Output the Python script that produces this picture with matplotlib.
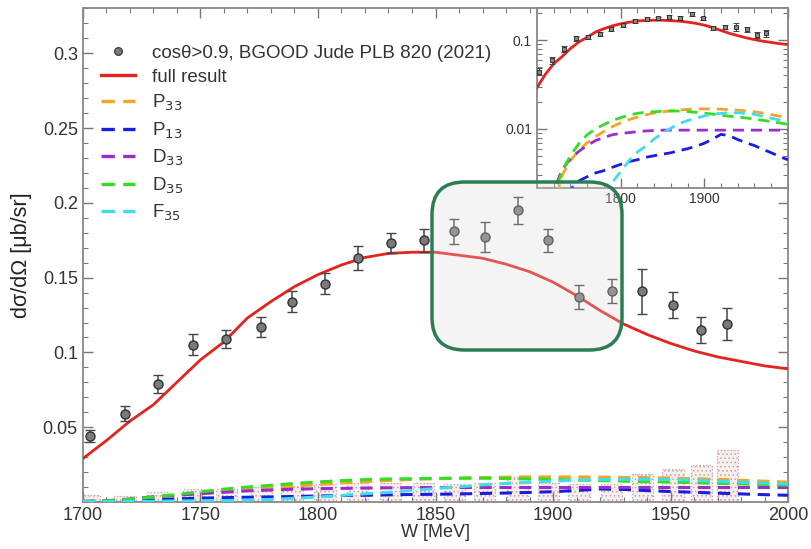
import numpy as np
import matplotlib

matplotlib.use("Agg")
import matplotlib.pyplot as plt
from matplotlib.lines import Line2D
from matplotlib.patches import FancyBboxPatch
from matplotlib.ticker import MultipleLocator, FixedLocator, NullFormatter

plt.rcParams["font.family"] = ["Liberation Sans", "DejaVu Sans"]
plt.rcParams["hatch.color"] = "#d8c4c4"
plt.rcParams["hatch.linewidth"] = 0.6

# BGOOD data, cos(theta) > 0.9
w_data = [1703, 1718, 1732, 1747, 1761, 1776, 1789, 1803, 1817, 1831, 1845,
          1858, 1871, 1885, 1898, 1911, 1925, 1938, 1951, 1963, 1974]
xs_data = [0.044, 0.059, 0.079, 0.105, 0.109, 0.117, 0.134, 0.146, 0.163, 0.173,
           0.175, 0.181, 0.177, 0.195, 0.175, 0.137, 0.141, 0.141, 0.132, 0.115, 0.119]
xs_err = [0.004, 0.005, 0.006, 0.007, 0.006, 0.0065, 0.007, 0.007, 0.008, 0.0067,
          0.0078, 0.0083, 0.010, 0.0092, 0.0078, 0.008, 0.008, 0.015, 0.0087, 0.009, 0.011]
sys_err = [0.005, 0.004, 0.007, 0.009, 0.009, 0.010, 0.011, 0.012, 0.013, 0.013,
           0.013, 0.012, 0.013, 0.017, 0.013, 0.012, 0.012, 0.019, 0.022, 0.025, 0.035]

# model curves
w_model = [1700, 1710, 1720, 1730, 1740, 1750, 1760, 1770, 1780, 1790, 1800,
           1810, 1820, 1830, 1840, 1850, 1860, 1870, 1880, 1890, 1900,
           1910, 1920, 1930, 1940, 1950, 1960, 1970, 1980, 1990, 2000]
full_result = [0.029, 0.041, 0.054, 0.065, 0.080, 0.095, 0.107, 0.123, 0.134, 0.144, 0.152,
               0.1585, 0.1635, 0.1662, 0.167, 0.167, 0.165, 0.163, 0.159, 0.154, 0.147,
               0.138, 0.128, 0.119, 0.112, 0.106, 0.101, 0.097, 0.094, 0.091, 0.089]
p33 = [0.0003, 0.0006, 0.0013, 0.0030, 0.0044, 0.0057, 0.0070, 0.0082, 0.0094, 0.0106, 0.0117,
       0.0127, 0.0136, 0.0144, 0.0151, 0.0156, 0.0160, 0.0163, 0.0166, 0.0168, 0.0168,
       0.0168, 0.0167, 0.0165, 0.0163, 0.0160, 0.0156, 0.0151, 0.0145, 0.0139, 0.0133]
p13 = [0.0002, 0.0004, 0.0008, 0.0014, 0.0021, 0.0026, 0.0029, 0.0032, 0.0034, 0.0037, 0.0040,
       0.0043, 0.0045, 0.0048, 0.0050, 0.0052, 0.0054, 0.0057, 0.0060, 0.0064, 0.0069,
       0.0077, 0.0087, 0.0084, 0.0076, 0.0070, 0.0065, 0.0059, 0.0054, 0.0049, 0.0045]
d33 = [0.0004, 0.0009, 0.0020, 0.0035, 0.0046, 0.0056, 0.0065, 0.0074, 0.0080, 0.0086, 0.0089,
       0.0091, 0.0093, 0.0095, 0.0096, 0.0097, 0.0097, 0.0097, 0.0097, 0.0097, 0.0097,
       0.0097, 0.0097, 0.0097, 0.0097, 0.0097, 0.0097, 0.0097, 0.0097, 0.0097, 0.0097]
d35 = [0.0004, 0.0008, 0.0018, 0.0033, 0.0050, 0.0068, 0.0086, 0.0100, 0.0112, 0.0124, 0.0134,
       0.0143, 0.0150, 0.0154, 0.0156, 0.0158, 0.0159, 0.0159, 0.0157, 0.0154, 0.0151,
       0.0147, 0.0143, 0.0139, 0.0136, 0.0133, 0.0129, 0.0125, 0.0121, 0.0117, 0.0113]
f35 = [0.0002, 0.0003, 0.0004, 0.0005, 0.0007, 0.0008, 0.0010, 0.0013, 0.0017, 0.0025, 0.0033,
       0.0044, 0.0055, 0.0064, 0.0077, 0.0090, 0.0102, 0.0115, 0.0124, 0.0132, 0.0140,
       0.0146, 0.0150, 0.0152, 0.0152, 0.0150, 0.0146, 0.0139, 0.0132, 0.0126, 0.0120]

waves = [
    ("P$_{33}$", p33, "#f5a32a"),
    ("P$_{13}$", p13, "#1c1ce0"),
    ("D$_{33}$", d33, "#9a2fc8"),
    ("D$_{35}$", d35, "#33dd22"),
    ("F$_{35}$", f35, "#40dcec"),
]

RED = "#e4231d"
SPINE = "#888888"
DASH = (0, (4, 2.5))


def style_axis(axis, label_size):
    for spine in axis.spines.values():
        spine.set_color(SPINE)
        spine.set_linewidth(1.3)
    axis.tick_params(which="both", direction="in", top=True, right=True,
                     color="#777777", labelsize=label_size, labelcolor="#333333")
    axis.tick_params(which="major", length=7, width=1.0)
    axis.tick_params(which="minor", length=3.5, width=0.8)


figure = plt.figure(figsize=(8.11, 5.49), dpi=100)
axis = figure.add_axes([0.102, 0.0856, 0.870, 0.899])

axis.bar(w_data, sys_err, width=9, bottom=0, facecolor="#f7eeee", edgecolor="#bfa5a5",
         linestyle=":", linewidth=0.9, hatch="....", zorder=1)
axis.errorbar(w_data, xs_data, yerr=xs_err, fmt="o", color="#555555", markersize=6.5,
              markerfacecolor="#7a7a7a", markeredgecolor="#333333", markeredgewidth=1.0,
              ecolor="#444444", elinewidth=1.1, capsize=3.5, capthick=1.1, zorder=5)
axis.plot(w_model, full_result, color=RED, linewidth=2.0, zorder=4)
for name, values, colour in waves:
    axis.plot(w_model, values, color=colour, linewidth=2.2, linestyle=DASH, zorder=3)

axis.set_xlim(1700, 2000)
axis.set_ylim(0, 0.33)
axis.xaxis.set_major_locator(MultipleLocator(50))
axis.xaxis.set_minor_locator(MultipleLocator(10))
axis.yaxis.set_major_locator(FixedLocator([0.05, 0.1, 0.15, 0.2, 0.25, 0.3]))
axis.yaxis.set_minor_locator(MultipleLocator(0.01))
axis.set_yticklabels(["0.05", "0.1", "0.15", "0.2", "0.25", "0.3"])
style_axis(axis, 13)
axis.set_xlabel("W [MeV]", fontsize=13, color="#333333", labelpad=0)
axis.set_ylabel("d\u03c3/d\u03a9 [\u03bcb/sr]", fontsize=15.5, color="#222222", labelpad=8)

handles = [Line2D([], [], linestyle="none", marker="o", markersize=5.5,
                  markerfacecolor="#7a7a7a", markeredgecolor="#444444"),
           Line2D([], [], color=RED, linewidth=2.4)]
labels = ["cos\u03b8>0.9, BGOOD Jude PLB 820 (2021)", "full result"]
for name, values, colour in waves:
    handles.append(Line2D([], [], color=colour, linewidth=2.4, linestyle=DASH))
    labels.append(name)
legend = axis.legend(handles, labels, loc="upper left", bbox_to_anchor=(0.0, 0.965),
                     frameon=False, fontsize=13.5, handlelength=1.8, handletextpad=0.9,
                     labelspacing=0.38, borderaxespad=0.6)
for text in legend.get_texts():
    text.set_color("#333333")

# inset on log scale
inset = figure.add_axes([0.662, 0.6576, 0.3096, 0.3278])
inset.set_facecolor("white")
inset.errorbar(w_data, xs_data, yerr=xs_err, fmt="s", color="#555555", markersize=3,
               markerfacecolor="#888888", markeredgecolor="#333333", markeredgewidth=0.7,
               ecolor="#444444", elinewidth=0.8, capsize=2, capthick=0.8, zorder=5)
inset.plot(w_model, full_result, color=RED, linewidth=2.0, zorder=4)
for name, values, colour in waves:
    inset.plot(w_model, values, color=colour, linewidth=2.0, linestyle=DASH, zorder=3)
inset.set_yscale("log")
inset.set_xlim(1700, 2000)
inset.set_ylim(0.00217, 0.229)
inset.xaxis.set_major_locator(FixedLocator([1800, 1900]))
inset.xaxis.set_minor_locator(MultipleLocator(20))
inset.yaxis.set_major_locator(FixedLocator([0.01, 0.1]))
inset.set_yticklabels(["0.01", "0.1"])
inset.yaxis.set_minor_formatter(NullFormatter())
style_axis(inset, 10)
inset.tick_params(axis="x", pad=3)

# highlight box drawn on top of the figure
box = FancyBboxPatch((432 / 811, 1 - 350 / 549), (622 - 432) / 811, (350 - 182) / 549,
                     boxstyle="round,pad=0,rounding_size=0.04",
                     transform=figure.transFigure, mutation_aspect=811 / 549,
                     facecolor=(0.86, 0.86, 0.86, 0.28), edgecolor="#2c7c55",
                     linewidth=2.5, zorder=10)
figure.patches.append(box)

figure.savefig("out.png", dpi=100)
